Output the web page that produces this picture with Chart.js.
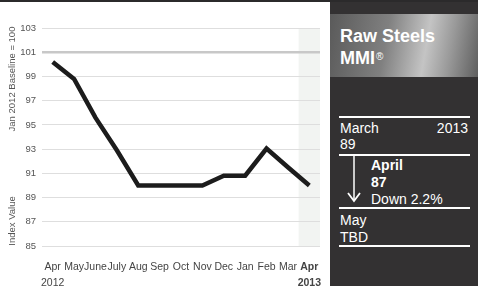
<!DOCTYPE html>
<html>
<head>
<meta charset="utf-8">
<script src="https://cdn.jsdelivr.net/npm/chart.js@4"></script>
<style>
    body { margin: 0; width: 478px; height: 286px; overflow: hidden; background: #fff; font-family: "Liberation Sans", Arial, sans-serif; }
    #wrap { position: absolute; left: 0; top: 0; width: 330px; height: 286px; }
    #topline { position: absolute; left: 0; top: 0; width: 478px; height: 2px; background: #2b2a2b; }
    #panel { position: absolute; left: 330px; top: 0; width: 148px; height: 286px; background: #333132; color: #fff; }
    #titlebox { position: absolute; left: 0; top: 14px; width: 148px; height: 63px;
        background: linear-gradient(100deg, #5a5a5a 0%, #808080 38%, #c4c4c4 64%, #999 80%, #5e5e5e 100%); }
    .ttl { position: absolute; left: 10px; font-weight: bold; font-size: 18px; line-height: 18px; color: #fff; }
    .ttl sup { font-size: 10px; font-weight: normal; vertical-align: top; position: relative; top: -1px; margin-left: 1px; }
    .rule { position: absolute; left: 9px; width: 131px; height: 1.5px; background: #fff; }
    .txt { position: absolute; font-size: 14px; line-height: 14px; color: #fff; white-space: nowrap; }
    .b { font-weight: bold; }
</style>
</head>
<body>
<div id="wrap"><canvas id="steelChart"></canvas></div>
<div id="panel">
    <div id="titlebox">
        <div class="ttl" style="top:13px">Raw Steels</div>
        <div class="ttl" style="top:35px">MMI<sup>®</sup></div>
    </div>
    <div class="rule" style="top:116px"></div>
    <div class="txt" style="left:10px; top:121px">March</div>
    <div class="txt" style="right:10px; top:121px">2013</div>
    <div class="txt" style="left:10px; top:137px">89</div>
    <div class="rule" style="top:154px"></div>
    <svg style="position:absolute; left:16px; top:155px" width="16" height="50">
        <line x1="8" y1="0" x2="8" y2="46" stroke="#fff" stroke-width="1.5"/>
        <polyline points="2,38 8,46 14,38" fill="none" stroke="#fff" stroke-width="1.8"/>
    </svg>
    <div class="txt b" style="left:41px; top:158px">April</div>
    <div class="txt b" style="left:41px; top:175px">87</div>
    <div class="txt" style="left:41px; top:192px">Down 2.2%</div>
    <div class="rule" style="top:207px"></div>
    <div class="txt" style="left:10px; top:213px">May</div>
    <div class="txt" style="left:10px; top:230px">TBD</div>
    <div class="rule" style="top:245px"></div>
</div>
<div id="topline"></div>

<script>
// 月份標籤與指數數值
const months = [['Apr', '2012'], 'May', 'June', 'July', 'Aug', 'Sep', 'Oct', 'Nov', 'Dec', 'Jan', 'Feb', 'Mar', ['Apr', '2013']];
const indexValues = [100.2, 98.8, 95.6, 92.9, 90.0, 90.0, 90.0, 90.0, 90.8, 90.8, 93.05, 91.5, 90.0];
const yTicks = [85, 87, 89, 91, 93, 95, 97, 99, 101, 103];
const highlightIndex = 12; // 最後一個月份加底色

const family = '"Liberation Sans", Arial, sans-serif';

// 背景色塊與左側標題
const extras = {
    id: 'extras',
    beforeDraw(chart) {
        const { ctx, chartArea, scales } = chart;
        const x = scales.x;
        const half = (x.getPixelForValue(1) - x.getPixelForValue(0)) / 2;
        const cx = x.getPixelForValue(highlightIndex);
        ctx.save();
        ctx.fillStyle = '#f2f4f2';
        ctx.fillRect(cx - half, chartArea.top, chartArea.right - (cx - half), chartArea.bottom - chartArea.top);
        ctx.restore();
    },
    afterDraw(chart) {
        const { ctx } = chart;
        const titles = [['Jan 2012 Baseline = 100', 79], ['Index Value', 221]];
        titles.forEach(([text, y]) => {
            ctx.save();
            ctx.fillStyle = '#555';
            ctx.font = '9.5px ' + family;
            ctx.textAlign = 'center';
            ctx.textBaseline = 'middle';
            ctx.translate(12, y);
            ctx.rotate(-Math.PI / 2);
            ctx.fillText(text, 0, 0);
            ctx.restore();
        });
    }
};

function drawChart() {
    const ctx = document.getElementById('steelChart');
    new Chart(ctx, {
        type: 'line',
        data: {
            labels: months,
            datasets: [{
                data: indexValues,
                borderColor: '#1c1c1c',
                borderWidth: 4.5,
                pointRadius: 0,
                tension: 0,
                borderJoinStyle: 'miter',
                borderCapStyle: 'butt'
            }]
        },
        options: {
            responsive: true,
            maintainAspectRatio: false,
            animation: false,
            layout: { padding: { top: 28, right: 10, left: 0, bottom: 0 } },
            plugins: { legend: { display: false }, tooltip: { enabled: false } },
            scales: {
                x: {
                    offset: true,
                    grid: { display: false },
                    border: { display: false },
                    afterFit: scale => { scale.height = 40; },
                    ticks: {
                        color: '#444',
                        padding: 5,
                        maxRotation: 0,
                        autoSkip: false,
                        font: c => ({
                            family: family,
                            size: 10.5,
                            weight: c.index === highlightIndex ? 'bold' : 'normal',
                            lineHeight: 1.5
                        })
                    }
                },
                y: {
                    min: 85,
                    max: 103,
                    afterFit: scale => { scale.width = 42; },
                    afterBuildTicks: scale => { scale.ticks = yTicks.map(v => ({ value: v })); },
                    border: { display: false },
                    grid: {
                        drawTicks: false,
                        color: c => c.tick && c.tick.value === 101 ? '#c8c8c8' : '#dedede',
                        lineWidth: c => c.tick && c.tick.value === 101 ? 2.5 : 1
                    },
                    ticks: {
                        color: '#555',
                        padding: 6,
                        font: { family: family, size: 9.5 }
                    }
                }
            }
        },
        plugins: [extras]
    });
}

window.addEventListener('load', drawChart);
</script>
</body>
</html>
